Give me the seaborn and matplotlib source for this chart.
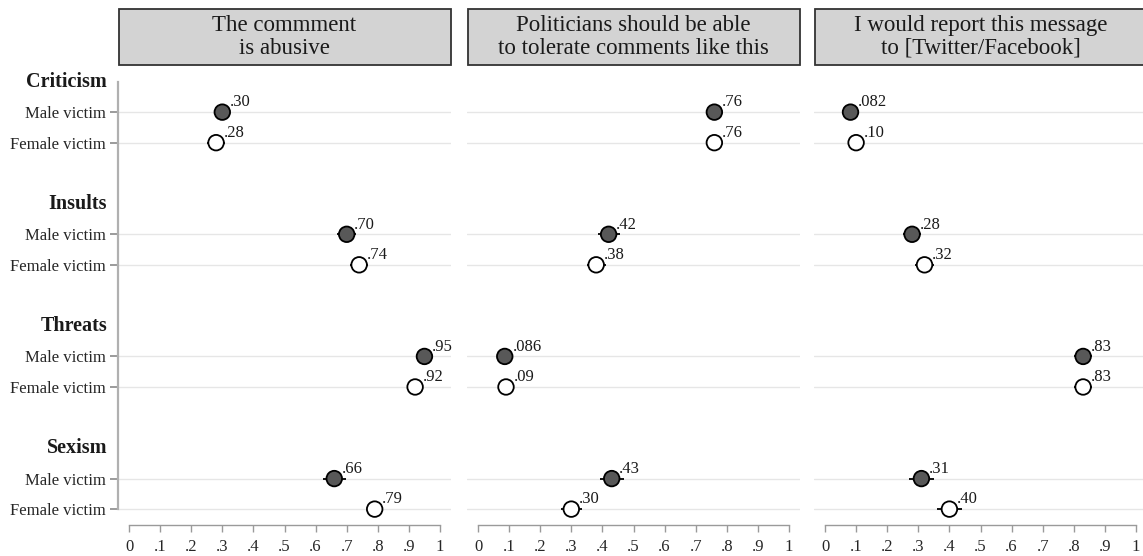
import matplotlib
matplotlib.use("Agg")
import matplotlib.pyplot as plt
import matplotlib.transforms as mtransforms
from matplotlib.patches import Rectangle
import numpy as np
import pandas as pd
import seaborn as sns

# ---- data -------------------------------------------------------------
panels = ["The commment\nis abusive",
          "Politicians should be able\nto tolerate comments like this",
          "I would report this message\nto [Twitter/Facebook]"]
groups = ["Criticism", "Insults", "Threats", "Sexism"]
victims = ["Male victim", "Female victim"]

# estimates per panel, ordered group by group (male, female)
abusive_est = [".30", ".28", ".70", ".74", ".95", ".92", ".66", ".79"]
tolerate_est = [".76", ".76", ".42", ".38", ".086", ".09", ".43", ".30"]
report_est = [".082", ".10", ".28", ".32", ".83", ".83", ".31", ".40"]

# half-widths of the 95% confidence intervals
abusive_ci = [0.020, 0.030, 0.030, 0.030, 0.015, 0.020, 0.037, 0.026]
tolerate_ci = [0.020, 0.020, 0.035, 0.030, 0.015, 0.015, 0.038, 0.034]
report_ci = [0.015, 0.015, 0.030, 0.030, 0.030, 0.030, 0.040, 0.040]

x_ticks = [0, .1, .2, .3, .4, .5, .6, .7, .8, .9, 1]
x_ticklabels = ["0", ".1", ".2", ".3", ".4", ".5", ".6", ".7", ".8", ".9", "1"]

# ---- style ------------------------------------------------------------
sns.set_theme(style="white")
plt.rcParams["font.family"] = ["Liberation Serif", "DejaVu Serif"]
plt.rcParams["text.color"] = "#1a1a1a"
plt.rcParams["ytick.left"] = True
plt.rcParams["xtick.bottom"] = True

# row layout: group header, male row, female row, blank row
rows = []
for g_i, g in enumerate(groups):
    for v_i, v in enumerate(victims):
        rows.append((g, v, g_i * 4 + 1 + v_i))
row_pos = [r[2] for r in rows]
row_lab = [r[1] for r in rows]
header_pos = [g_i * 4 for g_i in range(len(groups))]

def make_frame(est, ci):
    vals = [float(s) for s in est]
    return pd.DataFrame({
        "group": [r[0] for r in rows],
        "victim": [r[1] for r in rows],
        "y": row_pos,
        "est": vals,
        "lo": [v - c for v, c in zip(vals, ci)],
        "hi": [v + c for v, c in zip(vals, ci)],
        "label": est,
    })

frames = [make_frame(abusive_est, abusive_ci),
          make_frame(tolerate_est, tolerate_ci),
          make_frame(report_est, report_ci)]

W, H = 1143, 556
fig = plt.figure(figsize=(W / 100, H / 100), dpi=100)

lefts = [118, 467, 814]
ax_w = 333
ax_top, ax_bot = 70, 525
palette = {"Male victim": "#585858", "Female victim": "white"}

for p_i, (title, df) in enumerate(zip(panels, frames)):
    ax = fig.add_axes([lefts[p_i] / W, (H - ax_bot) / H,
                       ax_w / W, (ax_bot - ax_top) / H])
    ax.set_xlim(-0.0354, 1.0354)
    ax.set_ylim(14.52, -0.38)

    for y in row_pos:
        ax.axhline(y, color="#e6e6e6", lw=1.0, zorder=0)

    ax.hlines(df["y"], df["lo"], df["hi"], color="black", lw=1.3, zorder=2)
    sns.scatterplot(data=df, x="est", y="y", hue="victim", palette=palette,
                    hue_order=victims, s=125, edgecolor="black",
                    linewidth=1.3, legend=False, ax=ax, zorder=3)

    for _, r in df.iterrows():
        ax.annotate(r["label"], (r["est"], r["y"]), xytext=(5.5, 7),
                    textcoords="offset points", ha="left", va="center",
                    fontsize=12, color="#1a1a1a")

    # x axis
    ax.set_xticks(x_ticks)
    ax.set_xticklabels(x_ticklabels, fontsize=12)
    ax.spines["bottom"].set_bounds(0, 1)
    ax.spines["bottom"].set_color("#9a9a9a")
    ax.spines["bottom"].set_linewidth(1.0)
    ax.tick_params(axis="x", direction="out", length=5, width=1.0,
                   color="#9a9a9a", pad=5, bottom=True)
    ax.set_xlabel("")
    for s in ["top", "right"]:
        ax.spines[s].set_visible(False)

    if p_i == 0:
        ax.set_yticks(row_pos)
        ax.set_yticklabels(row_lab, fontsize=12)
        ax.tick_params(axis="y", which="major", direction="out", length=6,
                       width=1.2, color="#8a8a8a", pad=3, left=True)
        trans = mtransforms.blended_transform_factory(ax.transAxes, ax.transData)
        for g, yp in zip(groups, header_pos):
            ax.text(-0.033, yp, g, transform=trans, ha="right", va="center",
                    fontsize=14.5, fontweight="bold", color="#1a1a1a")
        ax.spines["left"].set_bounds(0, 14)
        ax.spines["left"].set_color("#b0b0b0")
        ax.spines["left"].set_linewidth(1.6)
    else:
        ax.tick_params(axis="y", left=False, labelleft=False)
        ax.spines["left"].set_visible(False)
    ax.set_ylabel("")

    # panel header box
    y0 = (ax_bot - 65) / (ax_bot - ax_top)
    y1 = (ax_bot - 9) / (ax_bot - ax_top)
    ax.add_patch(Rectangle((0.003, y0), 0.997, y1 - y0, transform=ax.transAxes,
                           facecolor="#d3d3d3", edgecolor="#333333", lw=1.3,
                           clip_on=False, zorder=5))
    ax.text(0.5, (y0 + y1) / 2, title, transform=ax.transAxes, ha="center",
            va="center", fontsize=16.5, linespacing=1.1, zorder=6,
            color="#1a1a1a")

fig.savefig("out.png", dpi=100)
